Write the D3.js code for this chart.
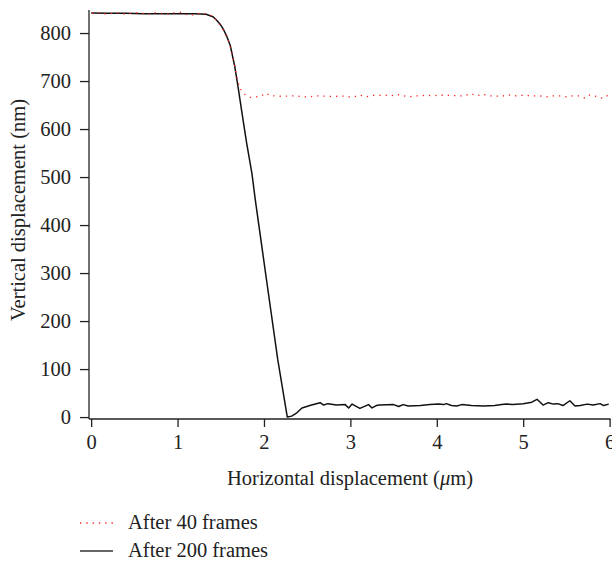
<!DOCTYPE html>
<html><head><meta charset="utf-8">
<script src="https://cdn.jsdelivr.net/npm/d3@7"></script>
<style>body{margin:0;background:#fff}svg{display:block}text{font-family:"Liberation Serif","DejaVu Serif",serif;fill:#222}</style>
</head><body><div id="chart"></div>
<script>
const xTicks = [0,1,2,3,4,5,6];
const yTicks = [0,100,200,300,400,500,600,700,800];
const seriesNames = ["After 40 frames","After 200 frames"];
const xTitle = "Horizontal displacement (";
const yTitle = "Vertical displacement (nm)";

// After 40 frames (red dotted)
const red = [
[0.01,841],[0.08,842],[0.16,840],[0.23,841],[0.30,842],[0.38,840],[0.45,841],[0.52,842],[0.60,841],[0.67,840],
[0.74,842],[0.82,841],[0.89,840],[0.96,842],[1.04,843],[1.11,838],[1.18,838],[1.26,841],[1.33,840],
[1.41,835],[1.45,827],[1.49,817],[1.53,806],[1.57,792],[1.60,778],[1.62,765],[1.64,749],[1.66,733],[1.68,712],
[1.70,698],[1.72,685],[1.78,672],[1.84,666],[1.90,667],[1.96,668],[2.02,675],[2.08,669],[2.15,669],[2.22,668],
[2.30,669],[2.38,669],[2.45,667],[2.52,667],[2.59,669],[2.67,669],[2.74,668],[2.82,668],[2.90,669],[2.97,667],
[3.04,667],[3.11,671],[3.18,667],[3.26,670],[3.33,670],[3.39,671],[3.47,669],[3.53,672],[3.60,670],[3.67,667],
[3.74,669],[3.81,669],[3.88,671],[3.95,669],[4.03,671],[4.10,670],[4.17,670],[4.25,669],[4.32,669],[4.39,674],
[4.46,669],[4.53,673],[4.60,669],[4.67,669],[4.75,668],[4.82,672],[4.89,669],[4.97,670],[5.04,670],[5.12,669],
[5.19,669],[5.27,667],[5.34,669],[5.42,669],[5.50,667],[5.57,669],[5.65,669],[5.72,664],[5.77,671],[5.85,668],
[5.92,664],[5.99,671]
];
// After 200 frames (black solid)
const black = [
[0,842],[0.2,841],[0.4,841],[0.6,840],[0.8,840],[1.0,840],[1.2,840],[1.33,839],[1.41,834],[1.45,827],
[1.49,819],[1.53,808],[1.57,793],[1.61,774],[1.66,732],[1.70,688],[1.74,640],[1.80,570],[1.86,508],[1.90,452],
[2.03,285],[2.16,119],[2.27,0],[2.32,2],[2.38,9],[2.44,19],[2.55,25],[2.65,30],[2.69,25],[2.74,28],
[2.84,25],[2.94,26],[2.98,19],[3.02,27],[3.11,18],[3.21,26],[3.25,19],[3.30,24],[3.34,25],[3.50,26],
[3.56,22],[3.61,26],[3.67,23],[3.81,24],[3.92,26],[4.02,27],[4.08,26],[4.11,28],[4.17,24],[4.23,23],
[4.29,26],[4.40,24],[4.54,23],[4.67,24],[4.75,26],[4.81,27],[4.88,26],[5.00,28],[5.10,31],[5.16,37],
[5.23,25],[5.29,30],[5.35,27],[5.40,28],[5.46,24],[5.54,34],[5.60,23],[5.66,24],[5.74,27],[5.81,25],
[5.89,28],[5.93,24],[5.99,27]
];

const W = 612, H = 561;
const svg = d3.select("#chart").append("svg").attr("width", W).attr("height", H);
const x = d3.scaleLinear().domain([-0.025, 6]).range([89, 609.6]);
const y = d3.scaleLinear().domain([-4, 848]).range([419, 10]);
const FS = 20.5;

const xAxis = svg.append("g").attr("transform", "translate(0,419)")
  .call(d3.axisBottom(x).tickValues(xTicks).tickSize(8).tickPadding(7).tickFormat(d3.format("d")));
const yAxis = svg.append("g").attr("transform", "translate(89,0)")
  .call(d3.axisLeft(y).tickValues(yTicks).tickSize(9).tickPadding(9).tickFormat(d3.format("d")));
[xAxis, yAxis].forEach(g => {
  g.select(".domain").attr("stroke", "#222").attr("stroke-width", 1.3);
  g.selectAll(".tick line").attr("stroke", "#222").attr("stroke-width", 1.3);
  g.selectAll(".tick text").attr("font-size", FS).attr("font-family", "Liberation Serif").attr("fill", "#222");
});
xAxis.select(".domain").attr("d", `M${x(-0.025)},0H${x(6)+1}`);
yAxis.select(".domain").attr("d", `M0,${y(848)}V${y(-4)}`);

const line = d3.line().x(d => x(d[0])).y(d => y(d[1]));
svg.append("path").datum(black).attr("d", line).attr("fill", "none")
  .attr("stroke", "#111").attr("stroke-width", 1.5).attr("stroke-linejoin", "round");
svg.append("path").datum(red).attr("d", line).attr("fill", "none")
  .attr("stroke", "#ff2020").attr("stroke-width", 1.3).attr("stroke-dasharray", "1.3,5");

const xt = svg.append("text").attr("x", 350).attr("y", 485).attr("text-anchor", "middle").attr("font-size", FS);
xt.append("tspan").text(xTitle);
xt.append("tspan").attr("font-style", "italic").text("μ");
xt.append("tspan").text("m)");
svg.append("text").attr("transform", "translate(25,210) rotate(-90)").attr("text-anchor", "middle")
  .attr("font-size", FS).text(yTitle);

const leg = svg.append("g");
leg.append("line").attr("x1", 80).attr("x2", 113).attr("y1", 523).attr("y2", 523)
  .attr("stroke", "#ff2020").attr("stroke-width", 1.3).attr("stroke-dasharray", "1.3,5");
leg.append("text").attr("x", 128).attr("y", 529).attr("font-size", FS).text(seriesNames[0]);
leg.append("line").attr("x1", 80).attr("x2", 113).attr("y1", 551).attr("y2", 551)
  .attr("stroke", "#333").attr("stroke-width", 1.5);
leg.append("text").attr("x", 128).attr("y", 557).attr("font-size", FS).text(seriesNames[1]);
</script></body></html>
